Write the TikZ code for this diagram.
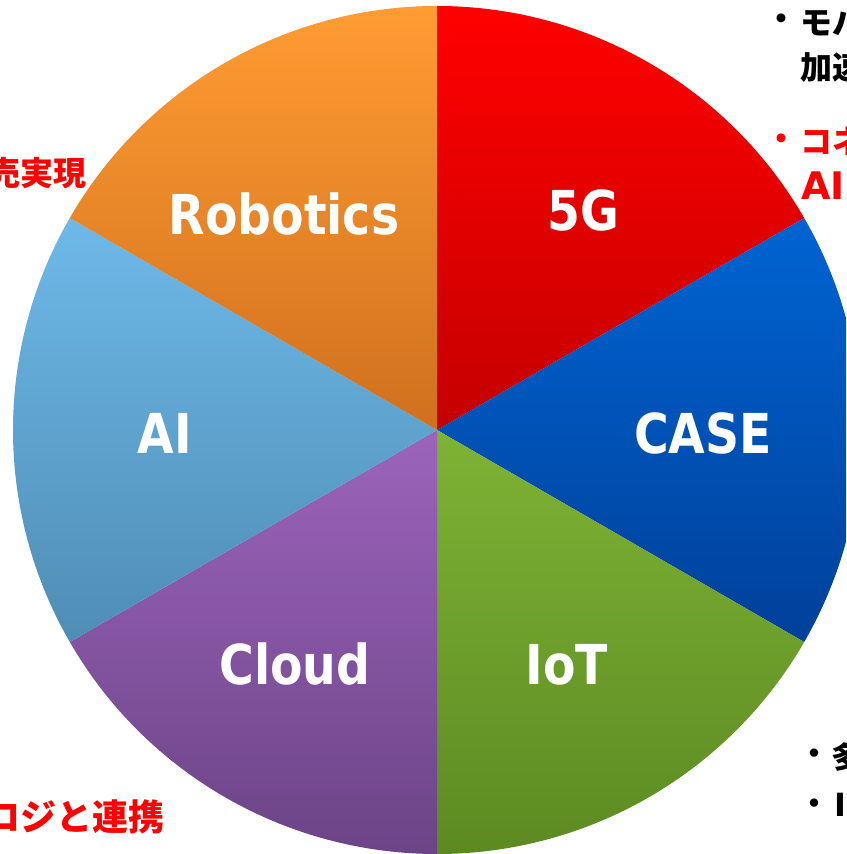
\documentclass[tikz,border=0pt]{standalone}
\usepackage{fontspec}
\newfontfamily\labfont{DejaVu Sans}[FakeStretch=0.86]
\newfontfamily\latfont{DejaVu Sans}
\newfontfamily\jpfont{Noto Sans CJK JP}
\definecolor{rA}{HTML}{FF0000}\definecolor{rB}{HTML}{C40000}
\definecolor{bA}{HTML}{0064D2}\definecolor{bB}{HTML}{00409A}
\definecolor{gA}{HTML}{7EB335}\definecolor{gB}{HTML}{5C8A22}
\definecolor{pA}{HTML}{9C64BC}\definecolor{pB}{HTML}{6C4486}
\definecolor{lA}{HTML}{6EB9E9}\definecolor{lB}{HTML}{4F8DB4}
\definecolor{oA}{HTML}{FF9C33}\definecolor{oB}{HTML}{D0701E}
\begin{document}
\begin{tikzpicture}[x=1pt,y=1pt,
  lab/.style={text=white, font=\labfont\bfseries\fontsize{55}{62}\selectfont, inner sep=0pt, anchor=base},
  jpred/.style={text=red, font=\jpfont\bfseries\fontsize{32}{38}\selectfont, inner sep=0pt},
  jpblk/.style={text=black, font=\jpfont\bfseries\fontsize{32}{38}\selectfont, inner sep=0pt},
  jpsm/.style={text=black, font=\jpfont\bfseries\fontsize{30}{36}\selectfont, inner sep=0pt}
]
\useasboundingbox (0,0) rectangle (846,854);
\clip (0,0) rectangle (846,854);
\fill[white] (0,0) rectangle (846,854);
\coordinate (C) at (437,424);
\def\R{424}
\shade[top color=rA, bottom color=rB] (C) -- ++(90:\R) arc[start angle=90, end angle=30, radius=\R] -- cycle;
\shade[top color=bA, bottom color=bB] (C) -- ++(30:\R) arc[start angle=30, end angle=-30, radius=\R] -- cycle;
\shade[top color=gA, bottom color=gB] (C) -- ++(-30:\R) arc[start angle=-30, end angle=-90, radius=\R] -- cycle;
\shade[top color=pA, bottom color=pB] (C) -- ++(-90:\R) arc[start angle=-90, end angle=-150, radius=\R] -- cycle;
\shade[top color=lA, bottom color=lB] (C) -- ++(210:\R) arc[start angle=210, end angle=150, radius=\R] -- cycle;
\shade[top color=oA, bottom color=oB] (C) -- ++(150:\R) arc[start angle=150, end angle=90, radius=\R] -- cycle;

\node[lab] (robotics) at (284,619) {Robotics};
\node[lab] (fiveg) at (583,623) {5G};
\node[lab] (case) at (703,400) {CASE};
\node[lab] (iot) at (567,169) {IoT};
\node[lab] (cloud) at (295,169) {Cloud};
\node[lab] (ai) at (165,400) {AI};

% top right
\node[jpblk] (b1) at (781,832) {・};
\node[jpblk, anchor=west] (t1) at (800,832) {モバ};
\node[jpblk, anchor=west] (t2) at (800,787) {加速};
\node[jpred] (b2) at (781,712) {・};
\node[jpred, anchor=west] (t3) at (800,713) {コネ};
\node[jpred, anchor=base west, font=\latfont\bfseries\fontsize{38}{44}\selectfont] (t4) at (801,654) {AI};
% left
\node[jpred, anchor=east, font=\jpfont\bfseries\fontsize{33}{38}\selectfont] (t5) at (87,681) {売実現};
% bottom left
\node[jpred, anchor=east, font=\jpfont\bfseries\fontsize{36}{42}\selectfont] (t6) at (165,37) {ロジと連携};
% bottom right
\node[jpsm] (b3) at (814,97) {・};
\node[jpsm, anchor=west] (t7) at (831,97) {多};
\node[jpsm, anchor=base west, font=\latfont\bfseries\fontsize{32}{38}\selectfont] (t8) at (834,37) {I};
\node[jpsm] (b4) at (814,47) {・};
\end{tikzpicture}
\end{document}
